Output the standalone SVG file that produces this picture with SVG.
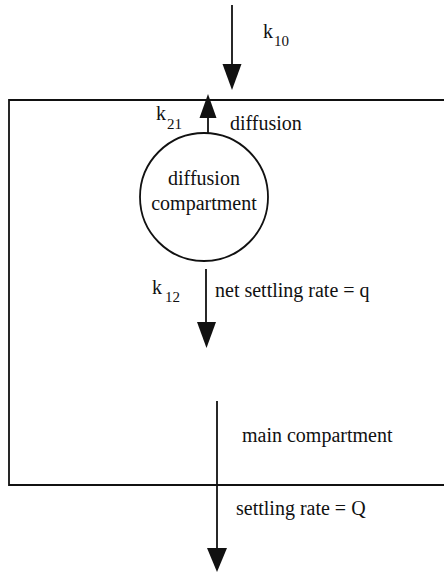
<svg xmlns="http://www.w3.org/2000/svg" width="444" height="573" viewBox="0 0 444 573">
<style>
.ln{stroke:#111;stroke-width:1.8;fill:none}
.ah{fill:#111;stroke:none}
.t{font-family:'Liberation Serif','DejaVu Serif',serif;fill:#111;font-size:20px}
.sub{font-size:15px}
</style>
<rect width="444" height="573" fill="#fff"/>
<g id="main">
<path class="ln" d="M444,100 H9 V485 H444" stroke-width="2"/>
<text class="t" x="242" y="442" font-family="Liberation Serif, serif">main compartment</text>
</g>
<g id="diffusion-compartment">
<circle class="ln" cx="204" cy="197" r="64"/>
<text class="t" x="204" y="185" text-anchor="middle" font-size="18" font-family="Liberation Serif, serif">diffusion</text>
<text class="t" x="204" y="210" text-anchor="middle" font-size="18" font-family="Liberation Serif, serif">compartment</text>
</g>
<g id="connectors">
<line class="ln" x1="232" y1="5" x2="232" y2="70"/>
<polygon class="ah" points="222.5,64 241.5,64 232,90"/>
<line class="ln" x1="208" y1="133" x2="208" y2="112"/>
<polygon class="ah" points="199.5,118 216.5,118 208,94"/>
<line class="ln" x1="206" y1="269" x2="206" y2="328"/>
<polygon class="ah" points="197,322 216,322 206.5,348"/>
<line class="ln" x1="217" y1="401" x2="217" y2="553"/>
<polygon class="ah" points="207,548 227,548 217,572"/>
</g>
<g id="labels">
<text class="t" x="263" y="38" font-family="Liberation Serif, serif">k<tspan class="sub" dx="1" dy="8">10</tspan></text>
<text class="t" x="156" y="120" font-family="Liberation Serif, serif">k<tspan class="sub" dx="1" dy="9">21</tspan></text>
<text class="t" x="230" y="130" font-family="Liberation Serif, serif">diffusion</text>
<text class="t" x="152" y="294" font-family="Liberation Serif, serif">k<tspan class="sub" dx="3" dy="8">12</tspan></text>
<text class="t" x="215" y="297" font-family="Liberation Serif, serif">net settling rate = q</text>
<text class="t" x="236" y="515" font-family="Liberation Serif, serif">settling rate = Q</text>
</g>
</svg>
